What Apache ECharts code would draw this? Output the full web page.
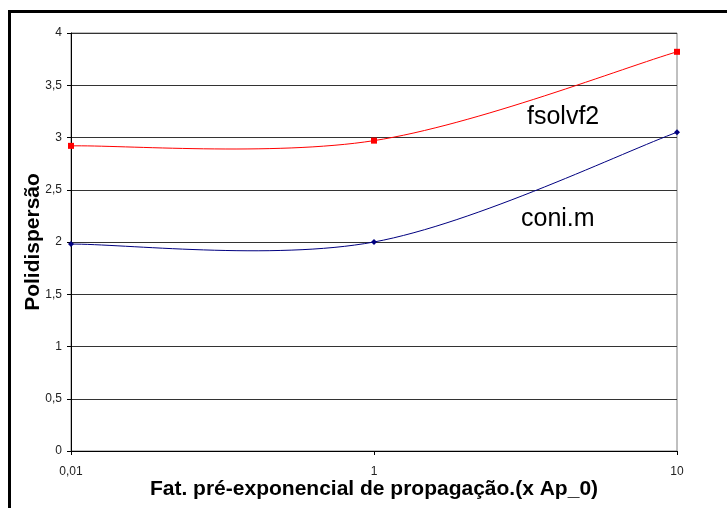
<!DOCTYPE html>
<html>
<head>
<meta charset="utf-8">
<script src="https://cdn.jsdelivr.net/npm/echarts@6/dist/echarts.min.js"></script>
<style>
  html, body { margin: 0; padding: 0; background: #fff; }
  #chart { width: 727px; height: 508px; }
</style>
</head>
<body>
<div id="chart"></div>
<script>
// Pre-exponential propagation factor (x Ap_0), evenly spaced categories
const categories = ['0,01', '1', '10'];
// Polydispersity per simulation routine
const fsolvf2 = [2.92, 2.97, 3.82];
const coniM = [1.98, 2.00, 3.05];
// Y tick range
const yMin = 0, yMax = 4, yStep = 0.5;

const FONT = '"Liberation Sans", Arial, sans-serif';
const fmt = v => String(v).replace('.', ',');

// Spreadsheet-style smoothed curve: cubic Bezier segments whose control
// points follow the neighbouring points (Catmull-Rom, tension 1/6).
function smoothCurve(name, values, color) {
  const n = values.length;
  return {
    name: name,
    type: 'custom',
    data: values.map((v, i) => [i, v]),
    encode: { x: 0, y: 1 },
    z: 2,
    silent: true,
    renderItem: function (params, api) {
      const i = params.dataIndex;
      if (i >= n - 1) return null;
      const pt = k => {
        const j = Math.max(0, Math.min(n - 1, k));
        return api.coord([j, values[j]]);
      };
      const p0 = pt(i - 1), p1 = pt(i), p2 = pt(i + 1), p3 = pt(i + 2);
      return {
        type: 'bezierCurve',
        shape: {
          x1: p1[0], y1: p1[1],
          cpx1: p1[0] + (p2[0] - p0[0]) / 6, cpy1: p1[1] + (p2[1] - p0[1]) / 6,
          cpx2: p2[0] - (p3[0] - p1[0]) / 6, cpy2: p2[1] - (p3[1] - p1[1]) / 6,
          x2: p2[0], y2: p2[1]
        },
        style: { stroke: color, lineWidth: 1, fill: null }
      };
    }
  };
}

// Data markers drawn on top of the curves
function markers(name, values, color, symbol, size) {
  return {
    name: name,
    type: 'line',
    data: values,
    z: 3,
    symbol: symbol,
    symbolSize: size,
    lineStyle: { width: 0, opacity: 0 },
    itemStyle: { color: color }
  };
}

const chart = echarts.init(document.getElementById('chart'), null, { renderer: 'canvas' });

chart.setOption({
  animation: false,
  backgroundColor: '#fff',
  grid: {
    left: 71, top: 33, right: 50, bottom: 57,
    show: true, borderColor: '#808080', borderWidth: 1
  },
  xAxis: {
    type: 'category',
    data: categories,
    boundaryGap: false,
    name: 'Fat. pré-exponencial de propagação.(x Ap_0)',
    nameLocation: 'middle',
    nameGap: 28,
    nameMoveOverlap: false,
    nameTextStyle: { fontFamily: FONT, fontWeight: 'bold', fontSize: 21, color: '#000' },
    axisLine: { lineStyle: { color: '#000', width: 1 } },
    axisTick: { length: 4, lineStyle: { color: '#000' } },
    axisLabel: { margin: 15, fontFamily: FONT, fontSize: 12, color: '#222' },
    splitLine: { show: false }
  },
  yAxis: {
    type: 'value',
    min: yMin, max: yMax, interval: yStep,
    name: 'Polidispersão',
    nameLocation: 'middle',
    nameGap: 27,
    nameRotate: 90,
    nameMoveOverlap: false,
    nameTextStyle: { fontFamily: FONT, fontWeight: 'bold', fontSize: 21, color: '#000' },
    axisLine: { show: true, lineStyle: { color: '#000', width: 1 } },
    axisTick: { show: true, length: 4, lineStyle: { color: '#000' } },
    axisLabel: { margin: 9, fontFamily: FONT, fontSize: 12, color: '#222', formatter: fmt },
    splitLine: { lineStyle: { color: '#333', width: 1 } }
  },
  series: [
    smoothCurve('fsolvf2', fsolvf2, '#ff0000'),
    smoothCurve('coni.m', coniM, '#000080'),
    markers('fsolvf2', fsolvf2, '#ff0000', 'rect', 6),
    markers('coni.m', coniM, '#000080', 'diamond', 6)
  ],
  graphic: [
    {
      type: 'rect',
      shape: { x: 9.5, y: 11.5, width: 760, height: 540 },
      style: { fill: 'none', stroke: '#000', lineWidth: 3 },
      z: 100
    },
    {
      type: 'text',
      x: 527, y: 117,
      style: { text: 'fsolvf2', font: '25px ' + FONT, fill: '#000', verticalAlign: 'middle' }
    },
    {
      type: 'text',
      x: 521, y: 219,
      style: { text: 'coni.m', font: '25px ' + FONT, fill: '#000', verticalAlign: 'middle' }
    }
  ]
});
</script>
</body>
</html>
